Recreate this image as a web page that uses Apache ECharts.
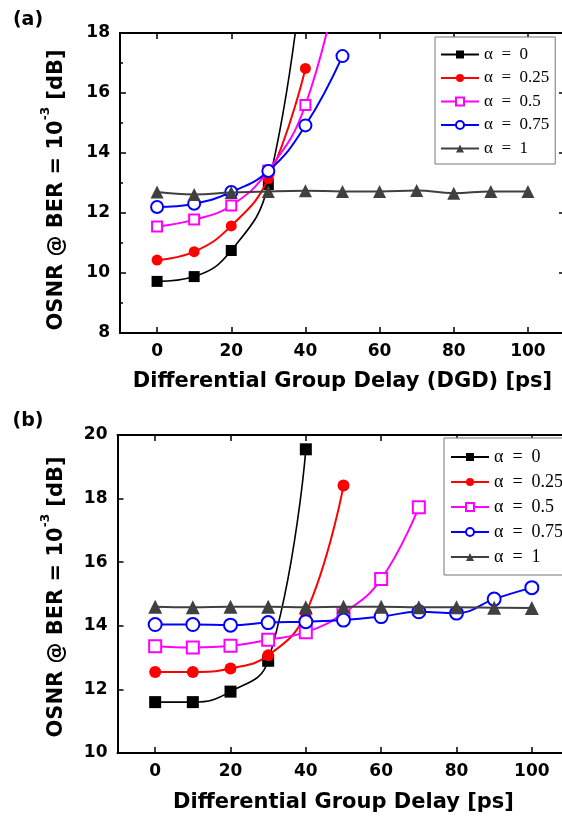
<!DOCTYPE html>
<html>
<head>
<meta charset="utf-8">
<script src="https://cdn.jsdelivr.net/npm/echarts@6/dist/echarts.min.js"></script>
<style>
  html, body { margin: 0; padding: 0; background: #fff; overflow: hidden; }
  #chart { width: 574px; height: 819px; }
</style>
</head>
<body>
<div id="chart"></div>
<script>
// DGD sample points [ps]
const dgd = [0, 10, 20, 30, 40, 50, 60, 70, 80, 90, 100];
const dgdTicks = [0, 20, 40, 60, 80, 100];

// Legend / series labels
const alphaNames = ['α\u2002=\u20020', 'α\u2002=\u20020.25', 'α\u2002=\u20020.5', 'α\u2002=\u20020.75', 'α\u2002=\u20021'];

// Panel (a): OSNR [dB] at BER = 1e-3 versus DGD
const osnrA_alpha0   = [9.72, 9.88, 10.75, 12.95, 21.0];
const osnrA_alpha025 = [10.43, 10.71, 11.57, 13.15, 16.82];
const osnrA_alpha05  = [11.55, 11.78, 12.25, 13.42, 15.6, 20.4];
const osnrA_alpha075 = [12.2, 12.31, 12.7, 13.4, 14.92, 17.23];
const osnrA_alpha1   = [12.7, 12.62, 12.68, 12.72, 12.74, 12.72, 12.72, 12.75, 12.66, 12.72, 12.72];

// Panel (b): OSNR [dB] at BER = 1e-3 versus DGD
const osnrB_alpha0   = [11.6, 11.6, 11.93, 12.9, 19.55];
const osnrB_alpha025 = [12.55, 12.55, 12.66, 13.07, 14.4, 18.41];
const osnrB_alpha05  = [13.36, 13.32, 13.37, 13.56, 13.8, 14.4, 15.47, 17.73];
const osnrB_alpha075 = [14.04, 14.04, 14.02, 14.1, 14.13, 14.18, 14.29, 14.44, 14.4, 14.84, 15.2];
const osnrB_alpha1   = [14.6, 14.58, 14.6, 14.6, 14.58, 14.6, 14.6, 14.58, 14.58, 14.57, 14.56];

const colors  = ['#000000', '#ff0000', '#ff00ff', '#0000ff', '#404040'];
const symbols = ['rect', 'circle', 'emptyRect', 'emptyCircle', 'triangle'];

const pts = (ys) => ys.map((v, i) => [dgd[i], v]);

const tickFont = { fontFamily: 'DejaVu Sans', fontWeight: 'bold', fontSize: 17, color: '#000' };
const titleFont = { fontFamily: 'DejaVu Sans', fontWeight: 'bold', fontSize: 21, color: '#000' };
const axisLine = { show: true, onZero: false, lineStyle: { color: '#000', width: 2 } };

function xAxes(grid, title, gap) {
  const base = {
    gridIndex: grid, type: 'value', min: -10, max: 110, interval: 10,
    axisLine, splitLine: { show: false },
    axisTick: { show: true, inside: true, length: 6, customValues: dgdTicks, lineStyle: { color: '#000', width: 1.5 } }
  };
  return [
    Object.assign({}, base, {
      position: 'bottom', name: title, nameLocation: 'middle', nameGap: gap, nameTextStyle: titleFont,
      axisLabel: Object.assign({ margin: 10, customValues: dgdTicks }, tickFont)
    }),
    Object.assign({}, base, { position: 'top', axisLabel: { show: false } })
  ];
}

function yAxes(grid, min, max, minor) {
  const base = {
    gridIndex: grid, type: 'value', min, max, interval: 2,
    axisLine, splitLine: { show: false },
    axisTick: { show: true, inside: true, length: 6, lineStyle: { color: '#000', width: 1.5 } },
    minorTick: { show: minor, splitNumber: 2, length: 3, lineStyle: { color: '#000', width: 1.5 } },
    minorSplitLine: { show: false }
  };
  return [
    Object.assign({}, base, { position: 'left', axisLabel: Object.assign({ margin: 10 }, tickFont) }),
    Object.assign({}, base, { position: 'right', axisLabel: { show: false } })
  ];
}

function panelSeries(grid, sets, sizes) {
  return sets.map((ys, k) => ({
    name: alphaNames[k], type: 'line', xAxisIndex: grid * 2, yAxisIndex: grid * 2,
    data: pts(ys), smooth: 0.45, clip: true,
    symbol: symbols[k], symbolSize: sizes[k],
    lineStyle: { color: colors[k], width: k === 0 ? 1.6 : 2 },
    itemStyle: { color: colors[k], borderWidth: 1.6 },
    z: 2 + k
  }));
}

function legend(left, top, gap, pad, size) {
  return {
    orient: 'vertical', left, top, selectedMode: false,
    data: alphaNames, itemWidth: 38, itemHeight: 10, itemGap: gap,
    padding: pad, borderColor: '#777', borderWidth: 1, backgroundColor: '#fff',
    textStyle: { fontFamily: 'Liberation Serif', fontSize: size, color: '#000' }
  };
}

function yTitle(x, y) {
  return {
    type: 'text', x, y, rotation: Math.PI / 2,
    style: {
      text: '{m|OSNR @ BER = 10}{s|-3}{m| [dB]}',
      align: 'center', verticalAlign: 'middle',
      rich: {
        m: { fontFamily: 'DejaVu Sans', fontWeight: 'bold', fontSize: 21, lineHeight: 34, fill: '#000' },
        s: { fontFamily: 'DejaVu Sans', fontWeight: 'bold', fontSize: 12, lineHeight: 12, verticalAlign: 'top', fill: '#000' }
      }
    }
  };
}

const chart = echarts.init(document.getElementById('chart'), null, { renderer: 'canvas' });
chart.setOption({
  animation: false,
  backgroundColor: '#fff',
  grid: [
    { left: 120, top: 33, width: 445, height: 300 },
    { left: 117.5, top: 435, width: 452, height: 318 }
  ],
  xAxis: xAxes(0, 'Differential Group Delay (DGD) [ps]', 38).concat(xAxes(1, 'Differential Group Delay [ps]', 39)),
  yAxis: yAxes(0, 8, 18, true).concat(yAxes(1, 10, 20, false)),
  legend: [legend(435, 37, 6.5, [9, 6, 7, 5], 17), legend(444, 438, 7, [10, 14, 9, 6], 18)],
  series: panelSeries(0, [osnrA_alpha0, osnrA_alpha025, osnrA_alpha05, osnrA_alpha075, osnrA_alpha1], [11, 11, 10, 12, 13])
    .concat(panelSeries(1, [osnrB_alpha0, osnrB_alpha025, osnrB_alpha05, osnrB_alpha075, osnrB_alpha1], [12, 12, 12, 13, 14])),
  graphic: [
    { type: 'text', x: 28, y: 20, style: { text: '(a)', align: 'center', verticalAlign: 'middle', font: 'bold 19px "DejaVu Sans"', fill: '#000' } },
    { type: 'text', x: 28, y: 421, style: { text: '(b)', align: 'center', verticalAlign: 'middle', font: 'bold 19px "DejaVu Sans"', fill: '#000' } },
    yTitle(57, 190),
    yTitle(57, 597)
  ]
});
</script>
</body>
</html>
